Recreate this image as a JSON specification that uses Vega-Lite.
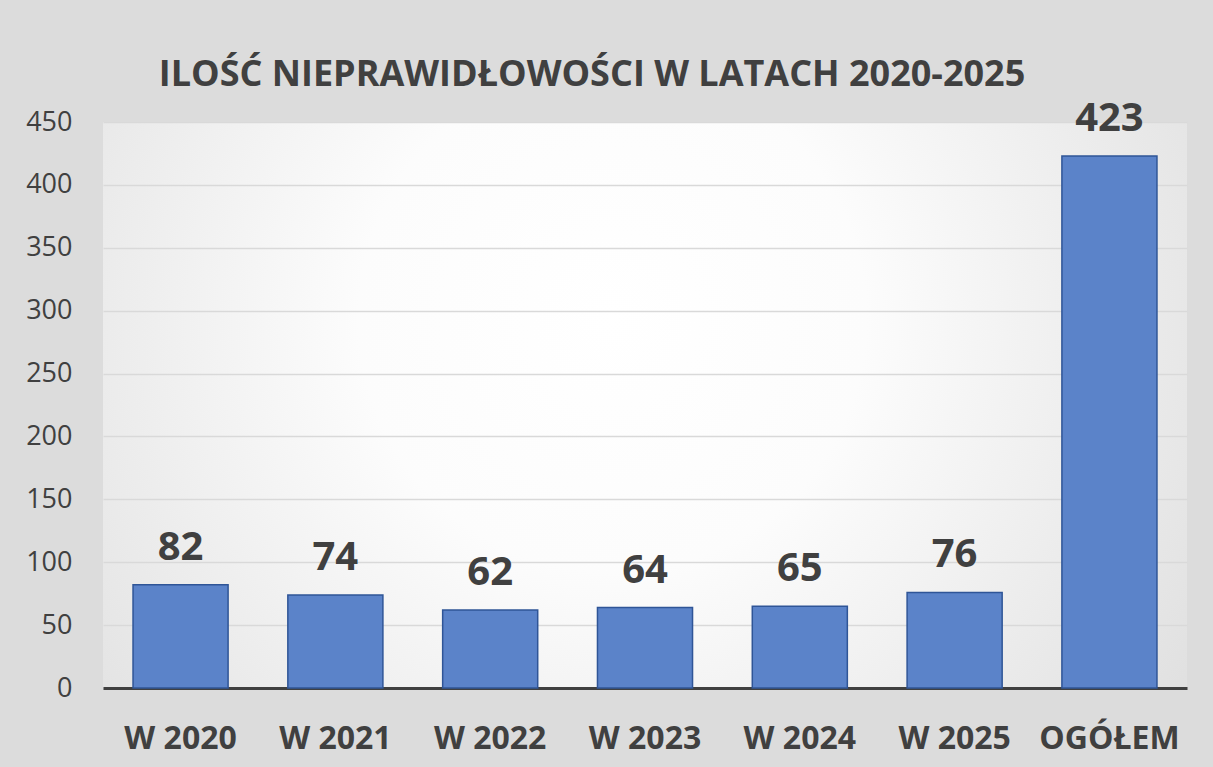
{
  "$schema": "https://vega.github.io/schema/vega-lite/v6.json",
  "width": 1084,
  "height": 566,
  "autosize": {"type": "none"},
  "padding": {"left": 103, "top": 122, "right": 26, "bottom": 79},
  "background": "#dcdcdc",
  "title": {
    "text": "ILOŚĆ NIEPRAWIDŁOWOŚCI W LATACH 2020-2025",
    "font": "Open Sans",
    "fontSize": 36,
    "fontWeight": "bold",
    "color": "#404040",
    "anchor": "middle",
    "frame": "group",
    "baseline": "alphabetic",
    "offset": 34,
    "dx": -53,
    "dy": 57
  },
  "config": {
    "view": {
      "stroke": null,
      "fill": {
        "gradient": "radial",
        "x1": 0.47, "y1": 0.42, "r1": 0,
        "x2": 0.47, "y2": 0.42, "r2": 0.78,
        "stops": [
          {"offset": 0, "color": "#ffffff"},
          {"offset": 0.3, "color": "#fcfcfc"},
          {"offset": 1, "color": "#d6d6d6"}
        ]
      }
    },
    "font": "Open Sans"
  },
  "data": {
    "values": [
      {"kategoria": "W 2020", "ilosc": 82},
      {"kategoria": "W 2021", "ilosc": 74},
      {"kategoria": "W 2022", "ilosc": 62},
      {"kategoria": "W 2023", "ilosc": 64},
      {"kategoria": "W 2024", "ilosc": 65},
      {"kategoria": "W 2025", "ilosc": 76},
      {"kategoria": "OGÓŁEM", "ilosc": 423}
    ]
  },
  "encoding": {
    "x": {
      "field": "kategoria",
      "type": "nominal",
      "sort": null,
      "scale": {"paddingInner": 0.386, "paddingOuter": 0.194},
      "axis": {
        "title": null,
        "labelAngle": 0,
        "labelFont": "Open Sans",
        "labelFontSize": 32,
        "labelFontWeight": "bold",
        "labelColor": "#404040",
        "labelBaseline": "alphabetic",
        "labelPadding": 60,
        "ticks": false,
        "domainColor": "#404040",
        "domainWidth": 3,
        "grid": false
      }
    },
    "y": {
      "field": "ilosc",
      "type": "quantitative",
      "scale": {"domain": [0, 450], "nice": false},
      "axis": {
        "title": null,
        "values": [0, 50, 100, 150, 200, 250, 300, 350, 400, 450],
        "labelFont": "Open Sans",
        "labelFontSize": 27,
        "labelColor": "#404040",
        "labelPadding": 31,
        "ticks": false,
        "domain": false,
        "grid": true,
        "gridColor": "#d9d9d9",
        "gridWidth": 1.5
      }
    }
  },
  "layer": [
    {
      "mark": {"type": "bar", "fill": "#5b83c9", "stroke": "#2f5597", "strokeWidth": 1.5}
    },
    {
      "mark": {
        "type": "text",
        "font": "Open Sans",
        "fontSize": 40,
        "fontWeight": "bold",
        "color": "#404040",
        "baseline": "alphabetic",
        "dy": -25
      },
      "encoding": {"text": {"field": "ilosc", "type": "quantitative"}}
    }
  ]
}
